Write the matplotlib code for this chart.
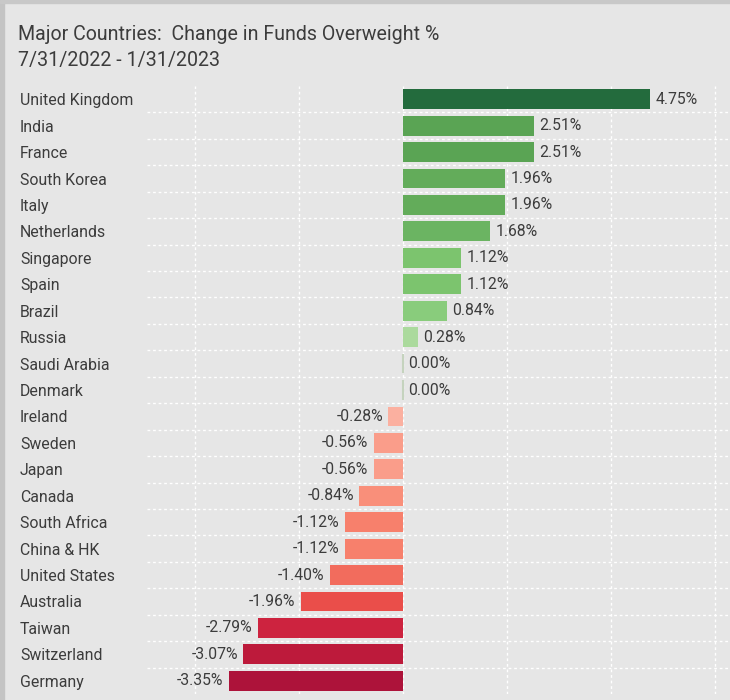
import matplotlib
matplotlib.use("Agg")
import matplotlib.pyplot as plt
from matplotlib.patches import Rectangle

countries = ["United Kingdom", "India", "France", "South Korea", "Italy", "Netherlands",
             "Singapore", "Spain", "Brazil", "Russia", "Saudi Arabia", "Denmark",
             "Ireland", "Sweden", "Japan", "Canada", "South Africa", "China & HK",
             "United States", "Australia", "Taiwan", "Switzerland", "Germany"]
values = [4.75, 2.51, 2.51, 1.96, 1.96, 1.68, 1.12, 1.12, 0.84, 0.28, 0.00, 0.00,
          -0.28, -0.56, -0.56, -0.84, -1.12, -1.12, -1.40, -1.96, -2.79, -3.07, -3.35]
colors = ["#236B3D", "#5AA454", "#5AA454", "#63AC5A", "#63AC5A", "#6BB462",
          "#7CC46E", "#7CC46E", "#89CC7C", "#ABDA9D", "#C5D3BE", "#C5D3BE",
          "#FBB0A0", "#FA9D8A", "#FA9D8A", "#F98F7A", "#F7806C", "#F7806C",
          "#F26C5D", "#EA4E4A", "#CD233F", "#BD1A3B", "#AD133A"]
title_line1 = "Major Countries:  Change in Funds Overweight %"
title_line2 = "7/31/2022 - 1/31/2023"
xticks = [-4, -2, 0, 2, 4, 6]

FONT = ["Roboto", "DejaVu Sans"]
TXT = "#3C3C3C"
BG = "#E6E6E6"
W, H = 730, 700

fig = plt.figure(figsize=(W / 100, H / 100), dpi=100, facecolor=BG)

# card border (left and top)
fig.patches.append(Rectangle((0, 0), 4 / W, 1, transform=fig.transFigure, color="#C4C4C4", zorder=0))
fig.patches.append(Rectangle((0, 1 - 3 / H), 1, 3 / H, transform=fig.transFigure, color="#C8C8C8", zorder=0))

ax_left, ax_right = 147, 730
ax_top, ax_bot = 86, 694
ax = fig.add_axes([ax_left / W, 1 - ax_bot / H, (ax_right - ax_left) / W, (ax_bot - ax_top) / H])
ax.set_facecolor(BG)

px_per_unit = 52.0
zero_px = 403
ax.set_xlim((ax_left - zero_px) / px_per_unit, (ax_right - zero_px) / px_per_unit)
n = len(countries)
ax.set_ylim(n - 0.5, -0.5)

ypos = list(range(n))
for y, v, c in zip(ypos, values, colors):
    if v == 0:
        ax.plot([0, 0], [y - 0.37, y + 0.37], color=c, lw=1.5, zorder=3, solid_capstyle="butt")
    else:
        ax.barh(y, v, height=0.75, color=c, zorder=3)

for y, v in zip(ypos, values):
    label = f"{v:.2f}%"
    if v >= 0:
        ax.annotate(label, (v, y), xytext=(4, 0), textcoords="offset points",
                    ha="left", va="center", fontsize=11.3, color=TXT, family=FONT)
    else:
        ax.annotate(label, (v, y), xytext=(-4, 0), textcoords="offset points",
                    ha="right", va="center", fontsize=11.3, color=TXT, family=FONT)

# gridlines
for x in xticks:
    ax.axvline(x, color="white", lw=1, ls=(0, (2, 2)), zorder=1)
for b in range(n - 1):
    ax.axhline(b + 0.5, color="white", lw=1, ls=(0, (2, 2)), zorder=1)

ax.set_xticks([])
ax.set_yticks(ypos)
ax.set_yticklabels(countries, family=FONT, fontsize=11.4, color=TXT)
ax.tick_params(axis="y", length=0, pad=(ax_left - 20) * 72 / 100)
for lbl in ax.get_yticklabels():
    lbl.set_ha("left")
for s in ax.spines.values():
    s.set_visible(False)

fig.text(18 / W, 1 - 40 / H, title_line1, family=FONT, fontsize=14.1, color=TXT, ha="left", va="baseline")
fig.text(18 / W, 1 - 66 / H, title_line2, family=FONT, fontsize=14.1, color=TXT, ha="left", va="baseline")

fig.savefig("out.png", dpi=100, facecolor=BG)
